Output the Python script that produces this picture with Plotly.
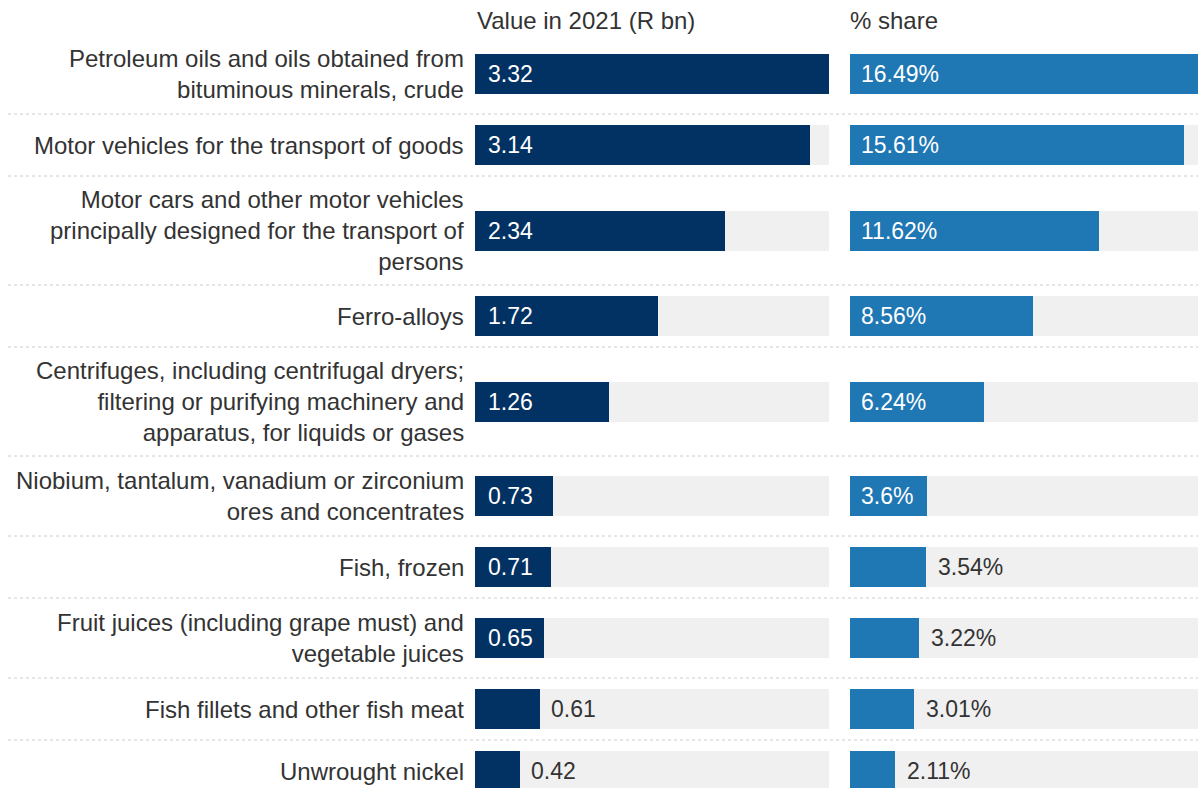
import plotly.graph_objects as go

# ---- data ----
categories = [
    "Petroleum oils and oils obtained from<br>bituminous minerals, crude",
    "Motor vehicles for the transport of goods",
    "Motor cars and other motor vehicles<br>principally designed for the transport of<br>persons",
    "Ferro-alloys",
    "Centrifuges, including centrifugal dryers;<br>filtering or purifying machinery and<br>apparatus, for liquids or gases",
    "Niobium, tantalum, vanadium or zirconium<br>ores and concentrates",
    "Fish, frozen",
    "Fruit juices (including grape must) and<br>vegetable juices",
    "Fish fillets and other fish meat",
    "Unwrought nickel",
]
values_rbn = [3.32, 3.14, 2.34, 1.72, 1.26, 0.73, 0.71, 0.65, 0.61, 0.42]
shares_pct = [16.49, 15.61, 11.62, 8.56, 6.24, 3.6, 3.54, 3.22, 3.01, 2.11]
header_value = "Value in 2021 (R bn)"
header_share = "% share"

value_labels = [f"{v:.2f}" for v in values_rbn]
share_labels = [f"{s:g}%" for s in shares_pct]

# ---- layout helpers ----
W, H = 1198, 788
FONT = "Liberation Sans"
FS_LAB = 24
FS_BAR = 23
TXT = "#333333"
NAVY = "#013263"
BLUE = "#1f77b4"
GREY = "#f0f0f0"
BAR_H = 40
LINE_H = 29
PAD = 22
TOP = 34

# row geometry derived from number of label lines
centers, seps = [], []
y = TOP
for c in categories:
    n = c.count("<br>") + 1
    h = max(BAR_H, LINE_H * n) + PAD
    centers.append(y + h / 2)
    y += h
    seps.append(y)
seps = seps[:-1]

val_dom = [475 / W, 829 / W]
shr_dom = [850 / W, 1.0]
val_max = max(values_rbn)
shr_px = (W - 850)
shr_full = 353.0
shr_max = max(shares_pct) * shr_px / shr_full
val_px = 829 - 475

char_w = {".": 0.278, "%": 0.889}
def text_w(s):
    return sum(char_w.get(ch, 0.556) for ch in s) * FS_BAR

fig = go.Figure()
# grey backgrounds
fig.add_trace(go.Bar(orientation="h", x=[val_max] * len(centers), y=centers, width=BAR_H,
                     marker=dict(color=GREY, line_width=0), xaxis="x", yaxis="y",
                     hoverinfo="skip", showlegend=False))
fig.add_trace(go.Bar(orientation="h", x=[shr_max * 1.05] * len(centers), y=centers, width=BAR_H,
                     marker=dict(color=GREY, line_width=0), xaxis="x2", yaxis="y",
                     hoverinfo="skip", showlegend=False))
# data bars
fig.add_trace(go.Bar(orientation="h", x=values_rbn, y=centers, width=BAR_H,
                     marker=dict(color=NAVY, line_width=0), xaxis="x", yaxis="y",
                     showlegend=False))
fig.add_trace(go.Bar(orientation="h", x=shares_pct, y=centers, width=BAR_H,
                     marker=dict(color=BLUE, line_width=0), xaxis="x2", yaxis="y",
                     showlegend=False))

ann = []
# row labels
for c, yc in zip(categories, centers):
    ann.append(dict(x=466 / W, xref="paper", y=yc, yref="y", text=c, showarrow=False,
                    xanchor="right", yanchor="middle", align="right",
                    font=dict(family=FONT, size=FS_LAB, color=TXT)))
# bar value labels
for v, lab, yc in zip(values_rbn, value_labels, centers):
    bw = v / val_max * val_px
    inside = text_w(lab) + 24 <= bw
    ann.append(dict(x=0 if inside else v, xref="x", y=yc, yref="y", text=lab, showarrow=False,
                    xanchor="left", yanchor="middle", xshift=11 if inside else 9,
                    font=dict(family=FONT, size=FS_BAR, color="white" if inside else TXT)))
for s, lab, yc in zip(shares_pct, share_labels, centers):
    bw = s / max(shares_pct) * shr_full
    inside = text_w(lab) + 24 <= bw
    ann.append(dict(x=0 if inside else s, xref="x2", y=yc, yref="y", text=lab, showarrow=False,
                    xanchor="left", yanchor="middle", xshift=9 if inside else 10,
                    font=dict(family=FONT, size=FS_BAR, color="white" if inside else TXT)))
# headers
ann.append(dict(x=475 / W, xref="paper", y=20, yref="y", text=header_value, showarrow=False,
                xanchor="left", yanchor="middle", font=dict(family=FONT, size=FS_LAB, color=TXT)))
ann.append(dict(x=848 / W, xref="paper", y=20, yref="y", text=header_share, showarrow=False,
                xanchor="left", yanchor="middle", font=dict(family=FONT, size=FS_LAB, color=TXT)))

shapes = [dict(type="line", xref="paper", yref="y", x0=8 / W, x1=1.0, y0=s, y1=s,
               line=dict(color="#cccccc", width=1, dash="dot"), layer="below") for s in seps]

fig.update_layout(
    width=W, height=H, margin=dict(l=0, r=0, t=0, b=0),
    paper_bgcolor="white", plot_bgcolor="white",
    barmode="overlay", bargap=0,
    xaxis=dict(domain=val_dom, range=[0, val_max], visible=False, fixedrange=True),
    xaxis2=dict(domain=shr_dom, range=[0, shr_max], visible=False, fixedrange=True, anchor="y"),
    yaxis=dict(domain=[0, 1], range=[H, 0], visible=False, fixedrange=True),
    annotations=ann, shapes=shapes, showlegend=False,
    font=dict(family=FONT, size=FS_LAB, color=TXT),
)

fig.write_html("out.html", config={"displayModeBar": False},
               post_script="document.body.style.margin='0';")
